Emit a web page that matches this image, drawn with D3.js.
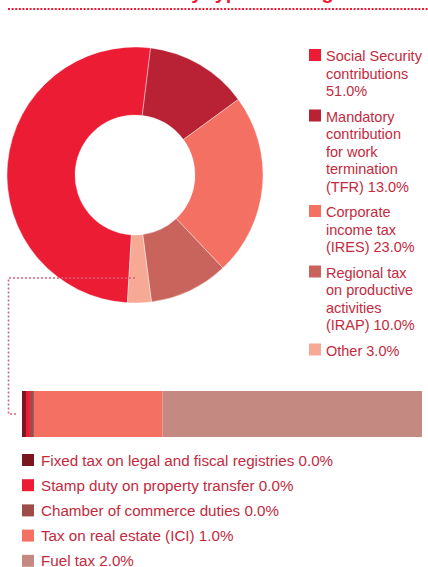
<!DOCTYPE html>
<html>
<head>
<meta charset="utf-8">
<script src="https://cdn.jsdelivr.net/npm/d3@7"></script>
<style>
  html, body { margin: 0; padding: 0; background: #fff; }
  svg { display: block; }
  text { font-family: "Liberation Sans", Arial, sans-serif; }
</style>
</head>
<body>
<svg id="chart" width="428" height="567"></svg>
<script>
// ---- data ----
const titleText = "Tax burden by type of charge";
const pieCategories = [
  "Social Security contributions",
  "Mandatory contribution for work termination (TFR)",
  "Corporate income tax (IRES)",
  "Regional tax on productive activities (IRAP)",
  "Other"
];
const pieValues = [51, 13, 23, 10, 3];
const pieColors = ["#ED1C35", "#B82234", "#F37062", "#C9645D", "#F6AA96"];
const pieLabelLines = [
  ["Social Security", "contributions"],
  ["Mandatory", "contribution", "for work", "termination", "(TFR)"],
  ["Corporate", "income tax", "(IRES)"],
  ["Regional tax", "on productive", "activities", "(IRAP)"],
  ["Other"]
];
const barCategories = [
  "Fixed tax on legal and fiscal registries",
  "Stamp duty on property transfer",
  "Chamber of commerce duties",
  "Tax on real estate (ICI)",
  "Fuel tax"
];
const barValues = [0.03, 0.03, 0.03, 0.97, 1.96];
const barColors = ["#7B1520", "#ED1C35", "#9E4C48", "#F37062", "#C48A81"];

// ---- layout ----
const svg = d3.select("#chart");
const textColor = "#C42A3E";
const fmt = v => v.toFixed(1) + "%";

// title (cut off at top, as in the source page)
svg.append("text")
  .attr("x", 206).attr("y", -1)
  .attr("text-anchor", "middle")
  .attr("font-size", 20).attr("font-weight", "bold")
  .attr("fill", "#ED1C35")
  .text(titleText);

// top dotted rule
svg.append("line")
  .attr("x1", 8).attr("x2", 428).attr("y1", 9).attr("y2", 9)
  .attr("stroke", "#ED1C35").attr("stroke-width", 2)
  .attr("stroke-dasharray", "2,1.6");

// donut
const cx = 135, cy = 175, rOuter = 128, rInner = 60;
const startA = -176.6 * Math.PI / 180;
const pie = d3.pie().sort(null).startAngle(startA).endAngle(startA + 2 * Math.PI);
const arc = d3.arc().innerRadius(rInner).outerRadius(rOuter);
const g = svg.append("g").attr("transform", `translate(${cx},${cy})`);
g.selectAll("path").data(pie(pieValues)).join("path")
  .attr("d", arc)
  .attr("fill", (d, i) => pieColors[i])
  .attr("stroke", "#fff").attr("stroke-width", 0.4);

// dotted connector from "Other" slice to the bar
const conn = d3.path();
conn.moveTo(135, 278);
conn.lineTo(8.5, 278);
conn.lineTo(8.5, 414);
conn.lineTo(17, 414);
svg.append("path")
  .attr("d", conn.toString())
  .attr("fill", "none")
  .attr("stroke", "#D9627A").attr("stroke-width", 1.6)
  .attr("stroke-dasharray", "2,2");

// right legend
const legX = 309, legTextX = 326, lineH = 17.5, itemGap = 8, fs = 14.5;
let ly = 49;
pieCategories.forEach((cat, i) => {
  svg.append("rect")
    .attr("x", legX).attr("y", ly).attr("width", 12).attr("height", 12)
    .attr("fill", pieColors[i]);
  const lines = pieLabelLines[i].slice();
  const last = lines[lines.length - 1] + " " + fmt(pieValues[i]);
  const probe = svg.append("text").attr("font-size", fs).text(last);
  const w = probe.node().getComputedTextLength();
  probe.remove();
  if (w > 428 - legTextX) lines.push(fmt(pieValues[i]));
  else lines[lines.length - 1] = last;
  const t = svg.append("text")
    .attr("x", legTextX).attr("y", ly + 12)
    .attr("font-size", fs).attr("fill", textColor);
  lines.forEach((ln, j) => {
    t.append("tspan").attr("x", legTextX).attr("y", ly + 12 + j * lineH).text(ln);
  });
  ly += lines.length * lineH + itemGap;
});

// stacked bar
const total = d3.sum(barValues);
const xs = d3.scaleLinear().domain([0, total]).range([22, 422]);
const stackStarts = d3.cumsum([0].concat(barValues.slice(0, -1)));
svg.selectAll("rect.bar").data(barValues).join("rect")
  .attr("class", "bar")
  .attr("x", (d, i) => xs(stackStarts[i]))
  .attr("width", (d, i) => xs(stackStarts[i] + d) - xs(stackStarts[i]))
  .attr("y", 391).attr("height", 46)
  .attr("fill", (d, i) => barColors[i]);

// bottom legend
const fsBottom = 15.2;
barCategories.forEach((cat, i) => {
  const y0 = 454 + i * 25.2;
  svg.append("rect")
    .attr("x", 22).attr("y", y0).attr("width", 12).attr("height", 12)
    .attr("fill", barColors[i]);
  svg.append("text")
    .attr("x", 41).attr("y", y0 + 11.5)
    .attr("font-size", fsBottom).attr("fill", textColor)
    .text(cat + " " + fmt(barValues[i]));
});
</script>
</body>
</html>
